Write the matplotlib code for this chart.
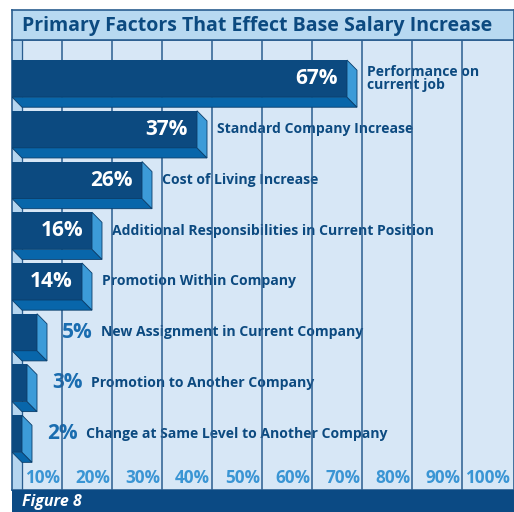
import matplotlib.pyplot as plt
from matplotlib.patches import Polygon

plt.rcParams['font.family'] = ['Open Sans', 'DejaVu Sans']

# data
factors = ['Performance on\ncurrent job', 'Standard Company Increase', 'Cost of Living Increase',
           'Additional Responsibilities in Current Position', 'Promotion Within Company',
           'New Assignment in Current Company', 'Promotion to Another Company',
           'Change at Same Level to Another Company']
percent = [67, 37, 26, 16, 14, 5, 3, 2]
ticks = [10, 20, 30, 40, 50, 60, 70, 80, 90, 100]
title = 'Primary Factors That Effect Base Salary Increase'

navy = '#0c4a80'
bg = '#d7e7f6'
W, H = 514, 512

fig = plt.figure(figsize=(W / 100, H / 100), dpi=100)
fig.patch.set_facecolor('white')

# main plot area
ax = fig.add_axes([12 / W, 22 / H, 502 / W, 450 / H])
ax.set_facecolor(bg)
ax.set_xlim(0, 100.4)
ax.set_ylim(8.11, -0.76)
ax.set_xticks([])
ax.set_yticks([])
for s in ax.spines.values():
    s.set_color('#2a5d8f')
    s.set_linewidth(1.2)

dx, dy, h = 2.0, 0.2, 0.73

# side wall strip
ax.axvspan(0, dx, color='#b5d5ef', zorder=0.5)
ax.axvline(dx, color='#2a5d8f', lw=0.9, zorder=2)
for t in ticks[:-1]:
    ax.axvline(t, color='#2a5d8f', lw=1.1, zorder=2)

for i, (lab, v) in enumerate(zip(factors, percent)):
    top, bot = i - h / 2, i + h / 2
    ax.barh(i, v, height=h, left=0, color=navy, zorder=3)
    ax.add_patch(Polygon([(0, bot), (v, bot), (v + dx, bot + dy), (dx, bot + dy)],
                         closed=True, fc='#0866aa', ec='#0a3d6a', lw=0.6, zorder=3))
    ax.add_patch(Polygon([(v, top), (v + dx, top + dy), (v + dx, bot + dy), (v, bot)],
                         closed=True, fc='#3c9bd8', ec='#0a3d6a', lw=0.6, zorder=3))
    if v >= 10:
        ax.text(v - 1.8, i, f'{v}%', color='white', ha='right', va='center',
                fontsize=15, fontweight='bold', zorder=4)
        ax.text(v + dx + 2.0, i, lab, color=navy, ha='left', va='center',
                fontsize=10.1, fontweight='bold', linespacing=0.9, zorder=1.5)
    else:
        vt = ax.text(v + dx + 3.0, i, f'{v}%', color='#1a6db0', ha='left', va='center',
                     fontsize=15, fontweight='bold', zorder=1.5)
        ax.annotate(lab, xy=(1, 0.5), xycoords=vt, xytext=(6, 0), textcoords='offset points',
                    color=navy, ha='left', va='center', fontsize=10.1, fontweight='bold',
                    zorder=1.5)

for t in ticks:
    ax.text(t - 0.4, 0.027, f'{t}%', transform=ax.get_xaxis_transform(),
            color='#3a95d4', ha='right', va='center', fontsize=12.3, fontweight='bold', zorder=4)

# title band
tax = fig.add_axes([12 / W, 472 / H, 502 / W, 30 / H])
tax.set_facecolor('#b8d9f1')
tax.set_xticks([])
tax.set_yticks([])
for s in tax.spines.values():
    s.set_color('#2a5d8f')
    s.set_linewidth(1.2)
tax.text(10 / 502, 0.47, title, transform=tax.transAxes, color=navy, ha='left', va='center',
         fontsize=14, fontweight='bold')

# footer band
fax = fig.add_axes([12 / W, 0, 502 / W, 22 / H])
fax.set_facecolor('#0b4a84')
fax.set_xticks([])
fax.set_yticks([])
for s in fax.spines.values():
    s.set_visible(False)
fax.text(10 / 502, 0.45, 'Figure 8', transform=fax.transAxes, color='white', ha='left',
         va='center', fontsize=11.5, fontweight='bold', style='italic')

fig.savefig('out.png', dpi=100, facecolor='white')
